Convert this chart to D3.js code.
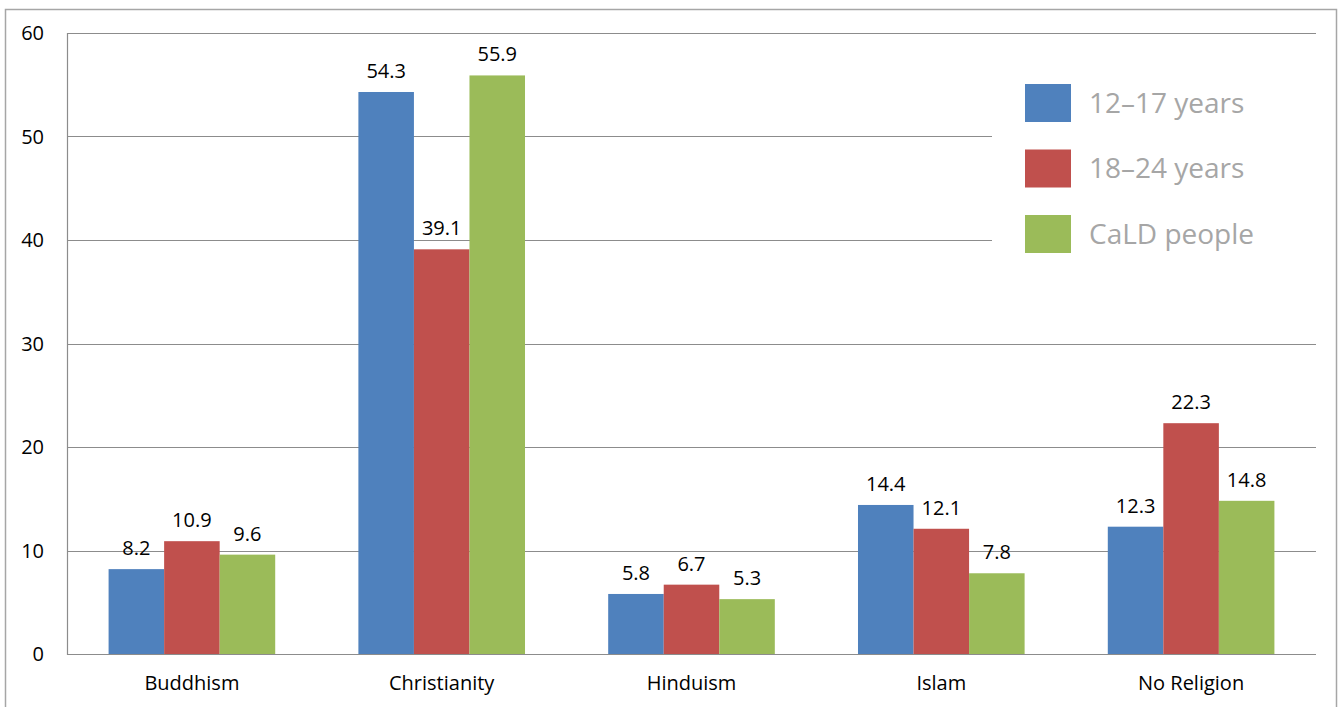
<!DOCTYPE html>
<html>
<head>
<meta charset="utf-8">
<script src="https://cdn.jsdelivr.net/npm/d3@7"></script>
<style>
  body { margin: 0; background: #fff; }
  svg text { font-family: "Open Sans", "Liberation Sans", sans-serif; }
</style>
</head>
<body>
<script>
// data
var categories = ["Buddhism", "Christianity", "Hinduism", "Islam", "No Religion"];
var seriesNames = ["12\u201317 years", "18\u201324 years", "CaLD people"];
var age12to17 = [8.2, 54.3, 5.8, 14.4, 12.3];
var age18to24 = [10.9, 39.1, 6.7, 12.1, 22.3];
var cald = [9.6, 55.9, 5.3, 7.8, 14.8];
var yTicks = [0, 10, 20, 30, 40, 50, 60];
var colors = ["#4f81bd", "#c0504d", "#9bbb59"];

var series = [age12to17, age18to24, cald];

var W = 1342, H = 707;
var plotL = 67, plotR = 1316, plotT = 33, plotB = 654;

var svg = d3.select("body")
    .append("svg")
    .attr("width", W)
    .attr("height", H);

// outer frame
svg.append("path")
    .attr("d", "M5.5," + H + "V9.5H1336.5V" + H)
    .attr("fill", "none")
    .attr("stroke", "#a6a6a6")
    .attr("stroke-width", 1.5);

var x0 = d3.scaleBand()
    .domain(categories)
    .range([plotL, plotR])
    .paddingInner(0.333)
    .paddingOuter(0.1665);

var x1 = d3.scaleBand()
    .domain(d3.range(series.length))
    .range([0, x0.bandwidth()]);

var y = d3.scaleLinear()
    .domain([0, 60])
    .range([plotB, plotT]);

// gridlines
svg.append("g")
    .selectAll("line")
    .data(yTicks.slice(1))
    .join("line")
    .attr("x1", plotL)
    .attr("x2", plotR)
    .attr("y1", d => Math.round(y(d)) + 0.5)
    .attr("y2", d => Math.round(y(d)) + 0.5)
    .attr("stroke", "#8c8c8c")
    .attr("stroke-width", 1.2);

// y tick labels
svg.append("g")
    .selectAll("text")
    .data(yTicks)
    .join("text")
    .attr("x", 44)
    .attr("y", d => y(d))
    .attr("dy", "0.35em")
    .attr("text-anchor", "end")
    .attr("font-size", 20)
    .attr("fill", "#000")
    .text(d => d);

// bars
var groups = svg.append("g")
    .selectAll("g")
    .data(categories)
    .join("g")
    .attr("transform", d => "translate(" + x0(d) + ",0)");

groups.selectAll("rect")
    .data((d, i) => series.map((s, j) => ({ s: j, v: s[i] })))
    .join("rect")
    .attr("x", d => x1(d.s))
    .attr("width", x1.bandwidth())
    .attr("y", d => y(d.v))
    .attr("height", d => y(0) - y(d.v))
    .attr("fill", d => colors[d.s]);

groups.selectAll("text")
    .data((d, i) => series.map((s, j) => ({ s: j, v: s[i] })))
    .join("text")
    .attr("x", d => x1(d.s) + x1.bandwidth() / 2)
    .attr("y", d => y(d.v) - 14)
    .attr("text-anchor", "middle")
    .attr("font-size", 20)
    .attr("fill", "#000")
    .text(d => d3.format(".1f")(d.v));

// axes lines
svg.append("line")
    .attr("x1", plotL + 0.5).attr("x2", plotL + 0.5)
    .attr("y1", plotT).attr("y2", plotB + 1)
    .attr("stroke", "#8c8c8c").attr("stroke-width", 1.2);
svg.append("line")
    .attr("x1", plotL).attr("x2", plotR)
    .attr("y1", plotB + 0.5).attr("y2", plotB + 0.5)
    .attr("stroke", "#8c8c8c").attr("stroke-width", 1.2);

// category labels
svg.append("g")
    .selectAll("text")
    .data(categories)
    .join("text")
    .attr("x", d => x0(d) + x0.bandwidth() / 2)
    .attr("y", 690)
    .attr("text-anchor", "middle")
    .attr("font-size", 20)
    .attr("fill", "#000")
    .text(d => d);

// legend (white box hides the gridlines behind it)
var legend = svg.append("g");
legend.append("rect")
    .attr("x", 992).attr("y", 60)
    .attr("width", 328).attr("height", 220)
    .attr("fill", "#fff");

var items = legend.selectAll("g")
    .data(seriesNames)
    .join("g")
    .attr("transform", (d, i) => "translate(1025," + (84 + i * 65.5) + ")");

items.append("rect")
    .attr("width", 46)
    .attr("height", 38)
    .attr("fill", (d, i) => colors[i]);

items.append("text")
    .attr("x", 64)
    .attr("y", 19)
    .attr("dy", "0.35em")
    .attr("font-size", 28)
    .attr("fill", "#a6a6a6")
    .text(d => d);
</script>
</body>
</html>
